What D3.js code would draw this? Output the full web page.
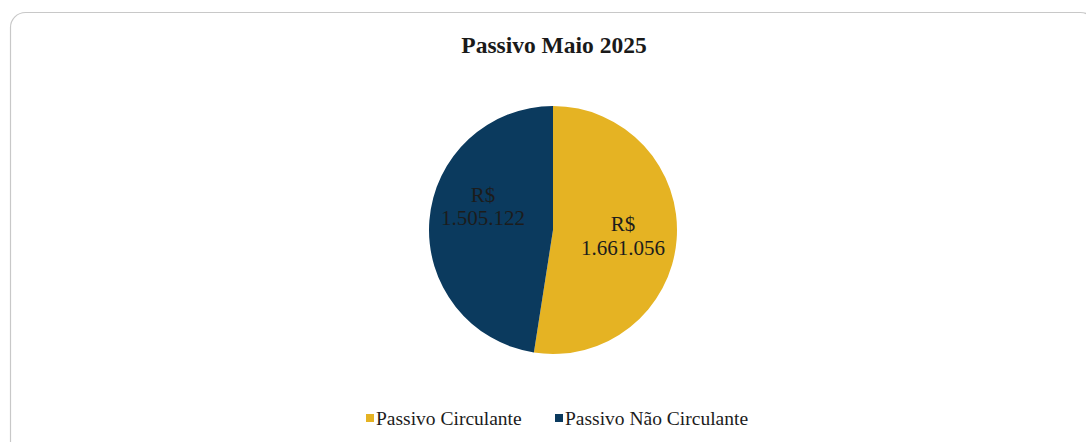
<!DOCTYPE html>
<html>
<head>
<meta charset="utf-8">
<script src="https://cdn.jsdelivr.net/npm/d3@7"></script>
<style>
  html, body { margin: 0; padding: 0; background: #fff; }
  svg { display: block; }
</style>
</head>
<body>
<div id="chart"></div>
<script>
var categories = ["Passivo Circulante", "Passivo Não Circulante"];
var values = [1661056, 1505122];
var labels = ["1.661.056", "1.505.122"];
var title = "Passivo Maio 2025";

var width = 1086, height = 442;
var colors = ["#e5b323", "#0b3a5e"];
var serif = "'Liberation Serif', 'Times New Roman', serif";

var svg = d3.select("#chart").append("svg")
    .attr("width", width)
    .attr("height", height);

// card border, runs off the right and bottom edges
svg.append("rect")
    .attr("x", 10.5)
    .attr("y", 12.5)
    .attr("width", 1085)
    .attr("height", 460)
    .attr("rx", 15)
    .style("fill", "#fff")
    .style("stroke", "#c8c8c8")
    .style("stroke-width", 1.2);

svg.append("text")
    .attr("x", 554)
    .attr("y", 53)
    .attr("text-anchor", "middle")
    .style("font-family", serif)
    .style("font-weight", "bold")
    .style("font-size", "23.5px")
    .style("fill", "#1a1a1a")
    .text(title);

var data = categories.map(function(c, i) {
  return { name: c, value: values[i], label: labels[i], color: colors[i] };
});

var cx = 553, cy = 230, r = 124;

var pie = d3.pie()
    .sort(null)
    .value(function(d) { return d.value; });

var arc = d3.arc().innerRadius(0).outerRadius(r);
var labelArc = d3.arc().innerRadius(r * 0.55).outerRadius(r * 0.55);

var g = svg.append("g")
    .attr("transform", "translate(" + cx + "," + cy + ")");

var slices = g.selectAll(".slice")
    .data(pie(data))
    .enter().append("g")
    .attr("class", "slice");

slices.append("path")
    .attr("d", arc)
    .style("fill", function(d) { return d.data.color; });

slices.each(function(d, i) {
  var c = labelArc.centroid(d);
  // the smaller slice's label sits a bit higher in the original
  var tx = c[0] + (i == 1 ? -2 : 2);
  var ty = c[1] + (i == 1 ? -19 : 0);
  var t = d3.select(this).append("text")
      .attr("text-anchor", "middle")
      .attr("transform", "translate(" + tx + "," + ty + ")")
      .style("font-family", serif)
      .style("font-size", "21px")
      .style("fill", "#1c1c1c");
  t.append("tspan").attr("x", 0).attr("dy", "-0.2em").text("R$");
  t.append("tspan").attr("x", 0).attr("dy", "1.12em").text(d.data.label);
});

// legend
var legendX = [366, 555];
var legend = svg.selectAll(".legend")
    .data(data)
    .enter().append("g")
    .attr("class", "legend")
    .attr("transform", function(d, i) { return "translate(" + legendX[i] + ",425)"; });

legend.append("rect")
    .attr("x", 0)
    .attr("y", -11)
    .attr("width", 8)
    .attr("height", 8)
    .style("fill", function(d) { return d.color; });

legend.append("text")
    .attr("x", 10)
    .attr("y", 0)
    .style("font-family", serif)
    .style("font-size", "19.5px")
    .style("fill", "#1c1c1c")
    .text(function(d) { return d.name; });
</script>
</body>
</html>
